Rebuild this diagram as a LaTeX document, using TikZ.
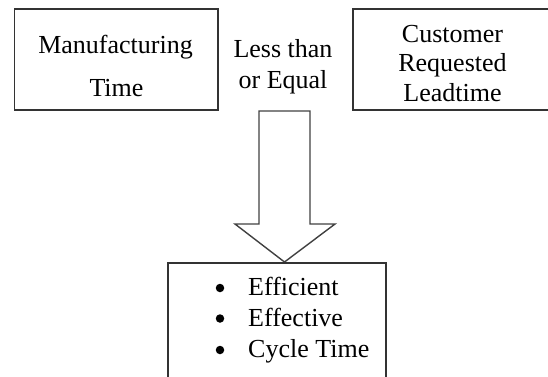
\documentclass[tikz,border=0pt]{standalone}
\usepackage{fontspec}
\setmainfont{Liberation Serif}
\begin{document}
\begin{tikzpicture}[x=1pt,y=-1pt,
  frame/.style={draw=black!80, line width=1.5pt, inner sep=0pt},
  bigarrow/.style={draw=black!75, line width=1.4pt, line join=miter},
  txt/.style={font=\fontsize{26}{30}\selectfont, inner sep=0pt, anchor=base},
  item/.style={txt, anchor=base west},
  dot/.style={circle, fill=black, inner sep=0pt, minimum size=8.5pt},
]
\useasboundingbox (0,0) rectangle (548,376);
\clip (0,0) rectangle (548,376);

% the two compared quantities
\node[frame, minimum width=203.5pt, minimum height=101pt] (mfg) at (116.25,59.5) {};
\node[txt] (mfg1) at (115.5,53.3) {Manufacturing};
\node[txt] (mfg2) at (116.5,96.5) {Time};

\node[frame, minimum width=199pt, minimum height=101pt] (crl) at (452.5,59.5) {};
\node[txt] (crl1) at (452.5,42) {Customer};
\node[txt] (crl2) at (452.5,71.5) {Requested};
\node[txt] (crl3) at (452.5,101) {Leadtime};

% relation between them
\node[txt] (rel1) at (283,57.5) {Less than};
\node[txt] (rel2) at (283,88.5) {or Equal};

% block arrow down to the outcome
\draw[bigarrow] (259,111) -- (310,111) -- (310,224) -- (335,224)
  -- (284.5,262) -- (235,224) -- (259,224) -- cycle;

% outcome box with bullet list
\node[frame, minimum width=218pt, minimum height=137pt] (out) at (277,331.5) {};
\node[dot] (b1) at (220,288) {};
\node[dot] (b2) at (220,318.5) {};
\node[dot] (b3) at (220,350) {};
\node[item] (i1) at (248,295) {Efficient};
\node[item] (i2) at (248,326) {Effective};
\node[item] (i3) at (248,357) {Cycle Time};
\end{tikzpicture}
\end{document}
